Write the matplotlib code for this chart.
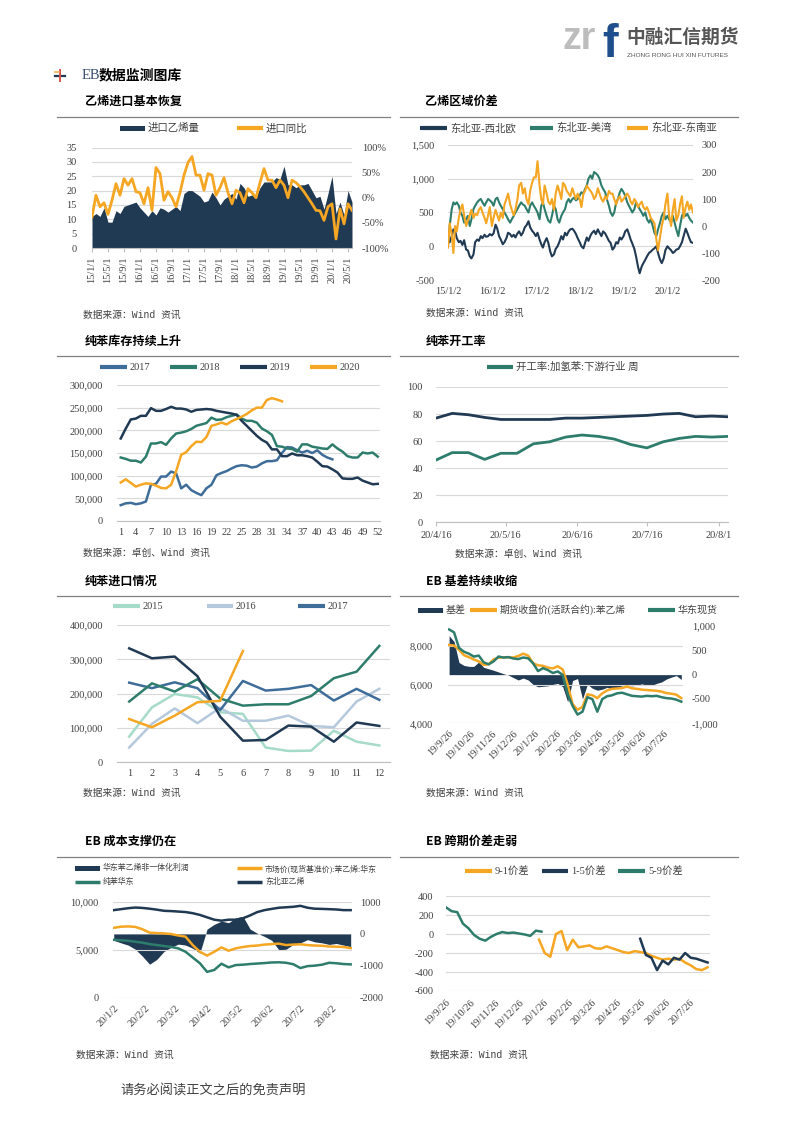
import numpy as np
import pandas as pd
import matplotlib
matplotlib.use('Agg')
import matplotlib.pyplot as plt
from matplotlib.ticker import FuncFormatter
from matplotlib.patches import Rectangle

plt.rcParams['font.family'] = ['Liberation Serif', 'Noto Sans CJK SC']
plt.rcParams['axes.unicode_minus'] = False

# ---------------- data ----------------
# 乙烯进口 (月度, 15/1 - 20/6)
eth_imp = [11, 12, 11, 14, 9, 9, 13, 12, 14.5, 15, 15.5, 16,
           14, 12.5, 11, 13, 11.5, 14, 13.5, 12.5, 13.5, 14.5, 13, 19,
           20, 20, 19, 18, 16, 16.5, 19.5, 17.5, 15, 17, 18, 19,
           17, 22.5, 21, 18, 18.5, 18, 21, 23, 23, 23, 24.5, 24,
           28.5, 22, 22, 21, 22, 22, 22.5, 20, 17.5, 18, 13.5, 19,
           25, 12, 16, 11.5, 20, 16]
eth_yoy = [-38, 5, -18, -10, -33, -5, 28, 5, 38, 25, 38, 12,
           10, -12, 20, -25, 60, 48, -5, 12, 0, -18, 10, 45,
           70, 82, 45, 45, 15, 48, 45, 5, 20, 40, 10, -12,
           15, 10, -10, 18, 10, 0, 30, 58, 35, 35, 20, 35,
           25, 0, 35, 30, 22, 12, 0, -12, -25, -26, -45, -18,
           -12, -82, -22, -52, -12, -25]

# 乙烯区域价差 (半月, 15/1 - 20/8)
spread_we = [100, 60, 150, 250, 230, 120, 60, 80, 20, 90, -50, -60, -150, -180, -120, 60, 100, 80, 150, 120, 170, 140, 150, 180,
             160, 190, 320, 260, 150, 100, 30, 60, 120, 200, 180, 140, 170, 130, 190, 220, 160, 200, 280, 310, 370, 280, 230, 200,
             150, 200, 100, 30, -20, 60, 120, 50, -80, -150, -120, -40, 0, 60, 150, 100, 200, 160, 220, 250, 260, 230, 180, 120,
             60, 0, -30, 50, 130, 80, 160, 200, 230, 180, 250, 200, 150, 220, 190, 140, 80, 50, -50, -20, 60, 40, 130, 100,
             150, 220, 250, 180, 100, 40, -40, -150, -300, -400, -300, -250, -200, -150, -100, -80, -50, -30, 0, -100, -200, -250, -180, -60,
             0, -30, -60, -100, -80, -50, -40, 0, 60, 150, 260, 200, 120, 60, 50]
spread_us = [0, 300, 550, 650, 620, 650, 600, 500, 450, 350, 400, 450, 300, 400, 550, 600, 650, 680, 700, 650, 600, 650, 700, 680,
             650, 600, 700, 720, 650, 600, 550, 500, 450, 400, 350, 400, 450, 500, 550, 600, 650, 620, 600, 550, 500, 600, 650, 600,
             550, 500, 400, 600, 650, 550, 450, 380, 350, 450, 600, 550, 400, 350, 450, 500, 550, 650, 700, 650, 700, 720, 680, 700,
             750, 800, 780, 850, 900, 1000, 1050, 1000, 1100, 1080, 1050, 1000, 900, 850, 800, 700, 600, 500, 450, 500, 650, 700, 800, 850,
             800, 750, 650, 600, 550, 500, 550, 650, 600, 550, 500, 450, 500, 400, 350, 400, 300, 200, 150, 250, 350, 450, 500, 400,
             450, 400, 350, 450, 350, 250, 150, 300, 450, 500, 450, 480, 420, 380, 350]
spread_sea = [-80, 10, -30, -100, 0, -20, 30, 60, 80, 40, 0, 20, 40, 60, 30, 45, 40, 60, 70, 50, 30, 10, 40, 70,
              0, 30, 60, 40, 20, 50, 30, 80, 100, 120, 80, 60, 40, 60, 100, 150, 160, 120, 140, 100, 80, 130, 160, 180,
              180, 240, 150, 100, 80, 150, 120, 90, 80, 100, 60, 120, 150, 130, 100, 160, 150, 130, 120, 110, 140, 120, 100, 120,
              100, 70, 120, 130, 150, 140, 130, 120, 100, 110, 140, 120, 100, 90, 110, 100, 130, 120, 120, 100, 80, 100, 110, 90,
              100, 110, 120, 110, 90, 80, 100, 90, 70, 80, 90, 70, 60, 70, 50, 30, 20, 10, -50, -90, -40, 0, 30, 80,
              120, 40, 0, 60, 100, 20, 40, 80, 110, 30, 70, 90, 60, 80, 50]

# 纯苯库存 (周, 千吨)
inv_2017 = [35, 39, 40, 37, 39, 43, 80, 82, 98, 98, 109, 105, 72, 80, 68, 62, 57, 72, 80, 101, 106, 110,
            116, 121, 123, 122, 118, 120, 127, 132, 132, 134, 150, 163, 162, 156, 151, 155, 150, 156, 146, 140, 136]
inv_2018 = [140, 137, 133, 133, 129, 142, 171, 171, 174, 168, 182, 193, 195, 198, 203, 210, 213, 216, 228, 223,
            224, 229, 232, 235, 226, 221, 221, 217, 204, 198, 190, 165, 164, 160, 159, 153, 169, 169, 164, 162,
            160, 159, 169, 160, 153, 143, 140, 140, 151, 149, 151, 142]
inv_2019 = [182, 204, 224, 226, 232, 232, 249, 243, 243, 247, 252, 248, 248, 246, 241, 245, 246, 247, 246, 243,
            241, 239, 237, 234, 221, 210, 199, 188, 179, 173, 158, 158, 143, 143, 149, 145, 145, 143, 140, 131,
            121, 120, 114, 107, 94, 93, 93, 96, 89, 85, 81, 82]
inv_2020 = [85, 92, 84, 76, 80, 83, 82, 78, 73, 72, 80, 110, 146, 152, 165, 175, 174, 185, 210, 213,
            217, 213, 220, 225, 230, 236, 244, 250, 250, 267, 271, 268, 264]

# 纯苯开工率 (周)
run_hyd = [46, 51.5, 51.5, 46.5, 51, 51, 58, 59.5, 63, 64.5, 63.5, 61.5, 57.5, 55, 59.5, 62, 63.5, 63, 63.5]
run_bz = [77, 80.5, 79.5, 77.5, 76, 76, 76, 76, 77, 77, 77.5, 78, 78.5, 79, 80, 80.5, 78, 78.5, 78]

# 纯苯进口 (月, 千吨)
imp_2015 = [75, 160, 199, 189, 146, 141, 43, 33, 34, 92, 60, 49]
imp_2016 = [43, 112, 157, 114, 159, 121, 121, 136, 106, 102, 177, 214]
imp_2017 = [232, 216, 233, 216, 152, 237, 209, 214, 225, 180, 214, 182]
imp_2018 = [177, 230, 206, 242, 186, 165, 169, 169, 193, 245, 264, 339]
imp_2019 = [332, 303, 308, 251, 133, 63, 65, 107, 104, 60, 116, 106]
imp_2020 = [126, 102, 136, 175, 179, 324]

# EB 基差 (周, 19/9/26 起)
eb_spot = [8850, 8700, 7900, 7700, 7600, 7450, 7500, 7150, 7050, 7200, 7450, 7400, 7420, 7350, 7320, 7400,
           7360, 7100, 6700, 6850, 6750, 6600, 6680, 6500, 5500, 4900, 4450, 4600, 5350, 5250, 4600, 5250,
           5400, 5450, 5550, 5580, 5500, 5420, 5400, 5380, 5420, 5400, 5420, 5350, 5300, 5280, 5220, 5120]
eb_fut = [8050, 8020, 7800, 7520, 7420, 7300, 7200, 7020, 7050, 7300, 7400, 7410, 7420, 7400, 7480, 7600,
          7500, 7100, 7000, 6970, 6880, 6840, 6950, 6780, 6000, 5000, 4700, 4850, 5500, 5450, 5300, 5550,
          5700, 5780, 5800, 5820, 5900, 5810, 5780, 5740, 5720, 5700, 5680, 5640, 5560, 5530, 5480, 5300]
eb_basis = [800, 680, 250, 190, 170, 170, 260, 150, 120, 90, 55, 20, -10, -60, -110, -70,
            -110, -200, -250, -240, -230, -200, -180, -250, -560, -120, -80, -500, -200, -280, -320, -300,
            -260, -300, -260, -230, -220, -230, -220, -190, -220, -220, -180, -150, -90, -50, -20, -100]

# EB 成本 (周, 20/1/2 起)
cost_profit = [-200, -280, -350, -480, -700, -950, -800, -550, -420, -320, -350, -450, -600, 150, 300, 400, 350,
               500, 550, 150, 20, -80, -200, -500, -480, -330, -280, -180, -250, -280, -330, -300, -350, -400]
cost_sm = [7300, 7420, 7450, 7400, 7150, 6800, 6750, 6720, 6650, 6500, 6380, 5500, 4800, 4400, 4800, 5260, 4910,
           5160, 5300, 5400, 5450, 5550, 5600, 5650, 5500, 5550, 5580, 5500, 5450, 5430, 5350, 5330, 5300, 5180]
cost_bz = [6050, 6000, 5950, 5850, 5750, 5600, 5500, 5400, 5300, 5150, 4800, 4200, 3600, 2700, 2900, 3550, 3170,
           3410, 3450, 3520, 3570, 3620, 3680, 3700, 3650, 3500, 3100, 3300, 3350, 3450, 3650, 3600, 3520, 3480]
cost_eth = [9150, 9250, 9350, 9420, 9380, 9300, 9200, 9080, 9050, 9000, 8950, 8830, 8650, 8400, 8150, 8050, 8150,
            8150, 8300, 8600, 8950, 9150, 9280, 9400, 9450, 9500, 9600, 9400, 9300, 9280, 9250, 9220, 9150, 9150]

# EB 跨期价差 (周)
sp_59 = [280, 240, 230, 110, 60, -10, -50, -70, -30, 0, 20, 10, 15, 5, -5, -20, 35, 25]
sp_91 = [-60, -200, -240, 0, 30, -170, -60, -140, -130, -120, -150, -155, -130, -150, -170, -190,
         -200, -180, -190, -200, -230, -250, -270, -260, -270, -260, -300, -330, -370, -380, -350]
sp_15 = [-50, -220, -250, -380, -280, -320, -250, -270, -200, -250, -260, -280, -300]

# ---------------- style ----------------
NAVY = '#213a53'
ORANGE = '#f5a623'
GREEN = '#2e7d6c'
BLUE = '#3f6d9a'
TEAL_L = '#a6dac9'
BLUE_L = '#b5c8dc'
GRID = '#d9d9d9'
TXT = '#404040'
CJK = ['Noto Sans CJK SC', 'DejaVu Sans']
MIX = ['Liberation Serif', 'Noto Sans CJK SC']

W, H = 793, 1122
fig = plt.figure(figsize=(W / 100, H / 100), dpi=100)
page = fig.add_axes([0, 0, 1, 1])
page.set_xlim(0, W)
page.set_ylim(H, 0)
page.axis('off')


def box(l, t, r, b):
    return fig.add_axes([l / W, 1 - b / H, (r - l) / W, (b - t) / H])


comma = FuncFormatter(lambda v, p: f'{v:,.0f}')


def style(ax, lpad=10, xpad=4, xlen=0):
    ax.set_facecolor('none')
    for s in ('top', 'right', 'left'):
        ax.spines[s].set_visible(False)
    ax.spines['bottom'].set_color('#bfbfbf')
    ax.spines['bottom'].set_linewidth(0.8)
    ax.tick_params(axis='y', length=0, pad=lpad, labelsize=7.5, labelcolor=TXT)
    ax.tick_params(axis='x', length=xlen, color='#bfbfbf', pad=xpad, labelsize=7.5, labelcolor=TXT)
    ax.grid(axis='y', color=GRID, lw=0.8)
    ax.set_axisbelow(True)


def style_twin(ax, pad=6):
    for s in ax.spines.values():
        s.set_visible(False)
    ax.tick_params(axis='y', length=0, pad=pad, labelsize=7.5, labelcolor=TXT)


def section(x, y, title, x0, x1, yr):
    page.text(x, y, title, fontsize=8.7, fontweight='bold', family=CJK, va='center', color='black')
    page.plot([x0, x1], [yr, yr], color='#808080', lw=0.9)


def source(x, y, s='数据来源：Wind 资讯'):
    page.text(x, y, s, fontsize=7, va='center', color=TXT, family=['Liberation Mono', 'Noto Sans CJK SC'])


def leg_line(x0, x1, y, c, s, size=7.5, lw=3):
    page.plot([x0, x1], [y, y], color=c, lw=lw, solid_capstyle='butt')
    page.text(x1 + 3, y, s, fontsize=size, va='center', color=TXT, family=MIX)


def leg_patch(x0, x1, y, c, s, size=7.5, h=5):
    page.add_patch(Rectangle((x0, y - h / 2), x1 - x0, h, color=c, lw=0))
    page.text(x1 + 3, y, s, fontsize=size, va='center', color=TXT, family=MIX)


# ---------------- page header / footer ----------------
page.plot([55, 65], [76, 76], color=NAVY, lw=1.6)
page.plot([60, 60], [70, 81], color='#d9534f', lw=1.4)
page.plot([55, 59], [72, 72], color='#f0ad4e', lw=1.2)
page.text(82, 75, 'EB', fontsize=10.5, color='#3b5273', va='center', family=['Liberation Serif'])
page.text(99, 75, '数据监测图库', fontsize=10, fontweight='bold', va='center', family=CJK)

page.text(563, 49, 'zr', fontsize=27, fontweight='bold', color='#bdbdbd', va='baseline',
          family=['Liberation Sans'])
page.text(602, 57, 'f', fontsize=34, fontweight='bold', color='#1f4e8c', va='baseline',
          family=['Liberation Sans'])
page.text(626, 37, '中融汇信期货', fontsize=13.5, fontweight='bold', color='#555555', va='center', family=CJK)
page.text(627, 55, 'ZHONG RONG HUI XIN FUTURES', fontsize=4.6, color='#555555', va='center',
          family=['Liberation Sans'])

page.text(120, 1091, '请务必阅读正文之后的免责声明', fontsize=9.5, color=TXT, va='center', family=CJK)

# ---------------- 1 乙烯进口基本恢复 ----------------
section(85, 101.7, '乙烯进口基本恢复', 57, 390, 117.3)
leg_patch(120, 145, 128.3, NAVY, '进口乙烯量', h=5)
leg_line(237, 263, 128.3, ORANGE, '进口同比')
source(83, 314.5)

months1 = pd.date_range('2015-01-01', periods=len(eth_imp), freq='MS')
lab1 = [f'{d.year % 100}/{d.month}/1' for d in months1]
x1 = np.arange(len(eth_imp))
ax = box(92, 147.5, 352, 248)
ax.fill_between(x1, eth_imp, 0, color=NAVY, lw=0)
ax.set_xlim(0, len(x1) - 1)
ax.set_ylim(0, 35)
ax.set_yticks(range(0, 36, 5))
ax.set_xticks(x1[::4])
ax.set_xticklabels(lab1[::4], rotation=90)
style(ax, lpad=11, xpad=3, xlen=3)
axb = ax.twinx()
axb.plot(x1, eth_yoy, color=ORANGE, lw=2)
axb.set_ylim(-100, 100)
axb.set_yticks(range(-100, 101, 50))
axb.yaxis.set_major_formatter(FuncFormatter(lambda v, p: f'{v:.0f}%'))
style_twin(axb, 7)

# ---------------- 2 乙烯区域价差 ----------------
section(425.5, 101.7, '乙烯区域价差', 400, 738, 117.3)
leg_line(420, 447, 128.3, NAVY, '东北亚-西北欧')
leg_line(530, 553, 128.3, GREEN, '东北亚-美湾')
leg_line(627, 648, 128.3, ORANGE, '东北亚-东南亚')
source(426, 312.7)

d2 = pd.date_range('2015-01-01', periods=len(spread_we), freq='SMS')
ax = box(448, 145, 693, 280)
ax.plot(d2, spread_we, color=NAVY, lw=1.5)
ax.plot(d2, spread_us, color=GREEN, lw=1.5)
ax.set_ylim(-500, 1500)
ax.set_yticks(range(-500, 1501, 500))
ax.yaxis.set_major_formatter(comma)
ax.set_xlim(d2[0], d2[-1])
t2 = pd.to_datetime([f'{y}-01-02' for y in range(2015, 2021)])
ax.set_xticks(t2)
ax.set_xticklabels([f'{d.year % 100}/1/2' for d in t2])
style(ax, lpad=10, xpad=5)
ax.spines['bottom'].set_visible(False)
axb = ax.twinx()
axb.plot(d2, spread_sea, color=ORANGE, lw=1.5)
axb.set_ylim(-200, 300)
axb.set_yticks(range(-200, 301, 100))
style_twin(axb, 6)

# ---------------- 3 纯苯库存持续上升 ----------------
section(85, 341.7, '纯苯库存持续上升', 57, 390, 356)
leg_line(100, 127, 367.3, BLUE, '2017')
leg_line(170, 197, 367.3, GREEN, '2018')
leg_line(240, 267, 367.3, NAVY, '2019')
leg_line(310, 337, 367.3, ORANGE, '2020')
source(83, 553, '数据来源：卓创、Wind 资讯')

ax = box(116.7, 385, 380, 521)
for vals, c in ((inv_2017, BLUE), (inv_2018, GREEN), (inv_2019, NAVY), (inv_2020, ORANGE)):
    ax.plot(np.arange(1, len(vals) + 1), np.array(vals) * 1000, color=c, lw=1.8)
ax.set_xlim(0.2, 52.45)
ax.set_ylim(0, 300000)
ax.set_yticks(range(0, 300001, 50000))
ax.yaxis.set_major_formatter(comma)
ax.set_xticks(range(1, 53, 3))
style(ax, lpad=10, xpad=5)

# ---------------- 4 纯苯开工率 ----------------
section(425.5, 341.7, '纯苯开工率', 400, 738, 356)
leg_line(487, 513, 366.7, GREEN, '开工率:加氢苯:下游行业 周')
source(455, 554, '数据来源：卓创、Wind 资讯')

d4 = pd.date_range('2020-04-16', periods=len(run_hyd), freq='7D')
ax = box(436, 387, 728, 522.3)
ax.plot(d4, run_bz, color=NAVY, lw=2)
ax.plot(d4, run_hyd, color=GREEN, lw=2)
ax.set_xlim(d4[0], d4[-1])
ax.set_ylim(0, 100)
ax.set_yticks(range(0, 101, 20))
t4 = pd.to_datetime(['2020-04-16', '2020-05-16', '2020-06-16', '2020-07-16', '2020-08-16'])
ax.set_xticks(t4)
ax.set_xticklabels(['20/4/16', '20/5/16', '20/6/16', '20/7/16', '20/8/1'])
style(ax, lpad=9.5, xpad=3, xlen=3)

# ---------------- 5 纯苯进口情况 ----------------
section(85, 581.7, '纯苯进口情况', 57, 390, 596)
leg_line(113, 140, 606, TEAL_L, '2015')
leg_line(207, 233, 606, BLUE_L, '2016')
leg_line(298, 325, 606, BLUE, '2017')
source(83, 793)

ax = box(116.7, 625, 390, 762.3)
for vals, c in ((imp_2015, TEAL_L), (imp_2016, BLUE_L), (imp_2017, BLUE),
                (imp_2018, GREEN), (imp_2019, NAVY), (imp_2020, ORANGE)):
    ax.plot(np.arange(1, len(vals) + 1), np.array(vals) * 1000, color=c, lw=1.8)
ax.set_xlim(0.45, 12.47)
ax.set_ylim(0, 400000)
ax.set_yticks(range(0, 400001, 100000))
ax.yaxis.set_major_formatter(comma)
ax.set_xticks(range(1, 13))
style(ax, lpad=10, xpad=5)

# ---------------- 6 EB 基差持续收缩 ----------------
section(425.5, 581.7, 'EB 基差持续收缩', 400, 738, 596)
leg_patch(418, 443, 610, NAVY, '基差', size=7.2, h=5)
leg_line(470, 497, 610, ORANGE, '期货收盘价(活跃合约):苯乙烯', size=7.0)
leg_line(648, 675, 610, GREEN, '华东现货', size=7.2)
source(426, 792.7)

d6 = pd.date_range('2019-09-26', periods=len(eb_spot), freq='7D')
ax = box(447.7, 626, 682.7, 723.3)
axb = ax.twinx()
axb.fill_between(d6, eb_basis, 0, color=NAVY, lw=0)
axb.set_ylim(-1000, 1000)
axb.set_yticks(range(-1000, 1001, 500))
axb.yaxis.set_major_formatter(comma)
style_twin(axb, 6.5)
ax.plot(d6, eb_fut, color=ORANGE, lw=1.8)
ax.plot(d6, eb_spot, color=GREEN, lw=1.8)
ax.set_zorder(axb.get_zorder() + 1)
ax.set_ylim(4000, 9030)
ax.set_yticks([4000, 6000, 8000])
ax.yaxis.set_major_formatter(comma)
ax.set_xlim(pd.Timestamp('2019-09-24'), pd.Timestamp('2020-08-22'))
t6 = pd.date_range('2019-09-26', periods=11, freq=pd.DateOffset(months=1))
ax.set_xticks(t6)
ax.set_xticklabels([f'{d.year % 100}/{d.month}/26' for d in t6], rotation=45, ha='right',
                   rotation_mode='anchor')
style(ax, lpad=10.5, xpad=4)
ax.patch.set_visible(False)
ax.spines['bottom'].set_visible(False)

# ---------------- 7 EB 成本支撑仍在 ----------------
section(85, 841.7, 'EB 成本支撑仍在', 57, 390, 856.7)
leg_patch(75, 100, 868.3, NAVY, '华东苯乙烯非一体化利润', size=5.7, h=5)
leg_line(237, 262, 868.3, ORANGE, '市场价(现货基准价):苯乙烯:华东', size=5.7, lw=2.5)
leg_line(75, 100, 881.7, GREEN, '纯苯华东', size=5.7, lw=2.5)
leg_line(237, 262, 881.7, NAVY, '东北亚乙烯', size=5.7, lw=2.5)
source(76, 1055)

d7 = pd.date_range('2020-01-02', periods=len(cost_eth), freq='7D')
ax = box(112.7, 902, 351.7, 997.7)
axb = ax.twinx()
axb.fill_between(d7, cost_profit, 0, color=NAVY, lw=0)
axb.set_ylim(-2000, 1000)
axb.set_yticks(range(-2000, 1001, 1000))
style_twin(axb, 6)
ax.plot(d7, cost_eth, color=NAVY, lw=1.8)
ax.plot(d7, cost_sm, color=ORANGE, lw=1.8)
ax.plot(d7, cost_bz, color=GREEN, lw=1.8)
ax.set_zorder(axb.get_zorder() + 1)
ax.set_ylim(0, 10000)
ax.set_yticks([0, 5000, 10000])
ax.yaxis.set_major_formatter(comma)
ax.set_xlim(pd.Timestamp('2020-01-01'), pd.Timestamp('2020-08-21'))
t7 = pd.date_range('2020-01-02', periods=8, freq=pd.DateOffset(months=1))
ax.set_xticks(t7)
ax.set_xticklabels([f'{d.year % 100}/{d.month}/2' for d in t7], rotation=45, ha='right',
                   rotation_mode='anchor')
style(ax, lpad=10, xpad=4)
ax.patch.set_visible(False)
ax.spines['bottom'].set_visible(False)

# ---------------- 8 EB 跨期价差走弱 ----------------
section(425.5, 841.7, 'EB 跨期价差走弱', 400, 738, 856.7)
leg_line(465, 492, 871, ORANGE, '9-1价差')
leg_line(542, 568, 871, NAVY, '1-5价差')
leg_line(618, 645, 871, GREEN, '5-9价差')
source(430, 1055)

ax = box(446, 896, 710, 991)
ax.plot(pd.date_range('2019-09-26', periods=len(sp_59), freq='7D'), sp_59, color=GREEN, lw=1.8)
ax.plot(pd.date_range('2020-01-20', periods=len(sp_91), freq='7D'), sp_91, color=ORANGE, lw=1.8)
ax.plot(pd.date_range('2020-05-25', periods=len(sp_15), freq='7D'), sp_15, color=NAVY, lw=1.8)
ax.set_ylim(-600, 400)
ax.set_yticks(range(-600, 401, 200))
ax.set_xlim(pd.Timestamp('2019-09-26'), pd.Timestamp('2020-08-20'))
t8 = pd.date_range('2019-09-26', periods=11, freq=pd.DateOffset(months=1))
ax.set_xticks(t8)
ax.set_xticklabels([f'{d.year % 100}/{d.month}/26' for d in t8], rotation=45, ha='right',
                   rotation_mode='anchor')
style(ax, lpad=9, xpad=5)
ax.spines['bottom'].set_visible(False)

fig.savefig('out.png', dpi=100)
